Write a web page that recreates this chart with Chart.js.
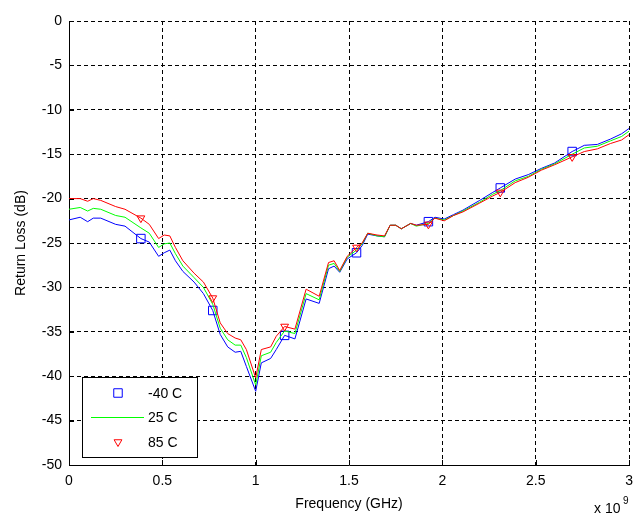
<!DOCTYPE html>
<html>
<head>
<meta charset="utf-8">
<script src="https://cdn.jsdelivr.net/npm/chart.js@4.4.0/dist/chart.umd.min.js"></script>
<style>
  body { margin: 0; background: #fff; }
  #myChart { display: block; }
</style>
</head>
<body>
<canvas id="myChart" width="641" height="519"></canvas>
<script>
// frequency points (GHz), shared by the three temperature curves
const freqs = [0, 0.06, 0.1, 0.13, 0.17, 0.25, 0.3, 0.385, 0.43, 0.48, 0.51, 0.54, 0.57, 0.61, 0.67, 0.72,
    0.77, 0.81, 0.85, 0.89, 0.92, 0.95, 1.0, 1.03, 1.08, 1.11, 1.155, 1.21, 1.27, 1.34, 1.39, 1.42, 1.45,
    1.49, 1.54, 1.57, 1.60, 1.65, 1.69, 1.72, 1.75, 1.78, 1.83, 1.86, 1.925, 1.96, 2.01, 2.06, 2.11, 2.2,
    2.27, 2.31, 2.39, 2.46, 2.53, 2.6, 2.695, 2.76, 2.83, 2.9, 2.96, 3.0]

const lossMinus40 = [-22.4, -22.1, -22.6, -22.2, -22.2, -22.9, -23.1, -24.5, -24.9, -26.5, -26.1, -25.8, -27.0, -28.2, -29.4, -30.7,
    -32.6, -35.3, -36.7, -37.3, -37.2, -38.9, -41.7, -38.5, -38.0, -37.0, -35.4, -35.8, -31.3, -31.8, -27.9, -27.6, -28.3,
    -26.8, -26.1, -25.3, -24.0, -24.2, -24.3, -23.0, -23.0, -23.4, -22.8, -23.0, -22.6, -22.1, -22.3, -21.8, -21.3, -20.2,
    -19.3, -18.8, -17.8, -17.3, -16.6, -16.0, -14.7, -14.0, -13.9, -13.3, -12.7, -12.1]

const loss25 = [-21.2, -21.0, -21.4, -21.1, -21.2, -21.9, -22.1, -23.3, -23.9, -25.5, -25.1, -25.0, -26.2, -27.6, -28.9, -30.0,
    -31.9, -34.6, -35.9, -36.5, -36.5, -37.9, -41.0, -37.7, -37.3, -36.2, -34.9, -35.2, -30.7, -31.4, -27.5, -27.3, -28.2,
    -26.6, -25.8, -25.1, -23.9, -24.2, -24.3, -23.0, -23.0, -23.4, -22.8, -23.1, -22.8, -22.2, -22.4, -21.9, -21.4, -20.4,
    -19.5, -19.1, -18.0, -17.5, -16.7, -16.1, -15.0, -14.3, -14.1, -13.5, -13.0, -12.4]

const loss85 = [-20.0, -20.0, -20.3, -20.0, -20.2, -20.9, -21.2, -22.2, -22.9, -24.5, -24.1, -24.2, -25.5, -27.0, -28.4, -29.4,
    -31.2, -34.0, -35.2, -35.7, -35.9, -37.0, -40.2, -37.0, -36.7, -35.5, -34.4, -34.7, -30.2, -31.0, -27.2, -27.0, -28.1,
    -26.5, -25.5, -25.0, -23.9, -24.1, -24.2, -23.0, -23.0, -23.4, -22.8, -23.0, -22.9, -22.2, -22.5, -21.9, -21.5, -20.5,
    -19.7, -19.3, -18.2, -17.6, -16.8, -16.2, -15.3, -14.7, -14.4, -13.8, -13.4, -12.8]

// frequencies where the markers sit
const markerFreqs = [0.385, 0.77, 1.155, 1.54, 1.925, 2.31, 2.695]

const seriesNames = ['-40 C', '25 C', '85 C']
const xTicks = [0, 0.5, 1, 1.5, 2, 2.5, 3]
const yTicks = [-50, -45, -40, -35, -30, -25, -20, -15, -10, -5, 0]

const FONT = "'Liberation Sans', Arial, sans-serif"

function toPoints(values) {
    return freqs.map((f, i) => ({x: f, y: values[i]}))
}

function markerRadius(r) {
    return (c) => markerFreqs.includes(freqs[c.dataIndex]) ? r : 0
}

const datasets = [
    {
        label: seriesNames[0],
        data: toPoints(lossMinus40),
        borderColor: '#0000ff',
        borderWidth: 1,
        pointStyle: 'rect',
        pointRadius: markerRadius(6),
        pointBorderColor: '#0000ff',
        pointBackgroundColor: 'rgba(0,0,0,0)',
        pointBorderWidth: 1,
        order: 3,
    },
    {
        label: seriesNames[1],
        data: toPoints(loss25),
        borderColor: '#00ff00',
        borderWidth: 1,
        pointRadius: 0,
        order: 2,
    },
    {
        label: seriesNames[2],
        data: toPoints(loss85),
        borderColor: '#ff0000',
        borderWidth: 1,
        pointStyle: 'triangle',
        pointRotation: 180,
        pointRadius: markerRadius(4.5),
        pointBorderColor: '#ff0000',
        pointBackgroundColor: 'rgba(0,0,0,0)',
        pointBorderWidth: 1,
        order: 1,
    },
]

// inward ticks, legend box and the x 10^9 exponent, matlab style
const extras = {
    id: 'extras',
    afterDraw(chart) {
        const c = chart.ctx
        const xs = chart.scales.x
        const ys = chart.scales.y
        const area = chart.chartArea
        c.save()
        c.setLineDash([])
        c.strokeStyle = '#000'
        c.lineWidth = 1
        c.beginPath()
        yTicks.forEach(v => {
            const py = Math.round(ys.getPixelForValue(v)) + 0.5
            c.moveTo(area.left, py)
            c.lineTo(area.left + 5, py)
        })
        xTicks.forEach(v => {
            const px = Math.round(xs.getPixelForValue(v)) + 0.5
            c.moveTo(px, area.bottom)
            c.lineTo(px, area.bottom - 5)
        })
        c.stroke()

        // legend
        const lx = 82.5, ly = 377.5, lw = 115, lh = 80
        c.fillStyle = '#fff'
        c.fillRect(lx, ly, lw, lh)
        c.strokeStyle = '#000'
        c.strokeRect(lx, ly, lw, lh)
        const rows = [393, 417, 442]
        chart.data.datasets.forEach((ds, i) => {
            const y = rows[i]
            c.lineWidth = 1
            if (i === 1) {
                c.strokeStyle = ds.borderColor
                c.beginPath()
                c.moveTo(91, y + 0.5)
                c.lineTo(144, y + 0.5)
                c.stroke()
            } else {
                c.fillStyle = 'rgba(0,0,0,0)'
                c.strokeStyle = ds.pointBorderColor
                Chart.helpers.drawPoint(c, {
                    pointStyle: ds.pointStyle,
                    rotation: ds.pointRotation || 0,
                    radius: i === 0 ? 6 : 4.5,
                    borderWidth: 1,
                }, 118, y)
            }
            c.fillStyle = '#000'
            c.font = '14px ' + FONT
            c.textBaseline = 'middle'
            c.textAlign = 'left'
            c.fillText(ds.label, 148, y + 1)
        })

        // exponent
        c.fillStyle = '#000'
        c.font = '14px ' + FONT
        c.fillText('x 10', 594, 509)
        c.font = '10px ' + FONT
        c.fillText('9', 623, 501)
        c.restore()
    }
}

function gridStyle() {
    return {color: '#000', lineWidth: 1, drawTicks: false}
}

function borderStyle() {
    // in chart.js v4 border.dash sets the dash of the grid lines
    return {display: true, color: '#000', width: 1, dash: [4, 3]}
}

const config = {
    type: 'line',
    data: {datasets: datasets},
    options: {
        responsive: false,
        animation: false,
        events: [],
        layout: {padding: {left: 0, right: 8, top: 21, bottom: 0}},
        plugins: {
            legend: {display: false},
            tooltip: {enabled: false},
        },
        scales: {
            x: {
                type: 'linear',
                min: 0,
                max: 3,
                afterFit: (s) => { s.height = 54 },
                afterBuildTicks: (s) => { s.ticks = xTicks.map(v => ({value: v})) },
                ticks: {
                    padding: 8,
                    color: '#000',
                    font: {family: FONT, size: 14},
                    maxRotation: 0,
                    callback: (v) => String(v),
                },
                grid: gridStyle(),
                border: borderStyle(),
                title: {
                    display: true,
                    text: 'Frequency (GHz)',
                    color: '#000',
                    font: {family: FONT, size: 14},
                    padding: {top: 0, bottom: 6},
                },
            },
            y: {
                type: 'linear',
                min: -50,
                max: 0,
                afterFit: (s) => { s.width = 69 },
                afterBuildTicks: (s) => { s.ticks = yTicks.map(v => ({value: v})) },
                ticks: {
                    padding: 7,
                    color: '#000',
                    font: {family: FONT, size: 14},
                    callback: (v) => String(v),
                },
                grid: gridStyle(),
                border: borderStyle(),
                title: {
                    display: true,
                    text: 'Return Loss (dB)',
                    color: '#000',
                    font: {family: FONT, size: 14},
                    padding: {top: 13, bottom: 0},
                },
            },
        },
    },
    plugins: [extras],
}

const chart = new Chart(document.getElementById('myChart').getContext('2d'), config)
</script>
</body>
</html>
